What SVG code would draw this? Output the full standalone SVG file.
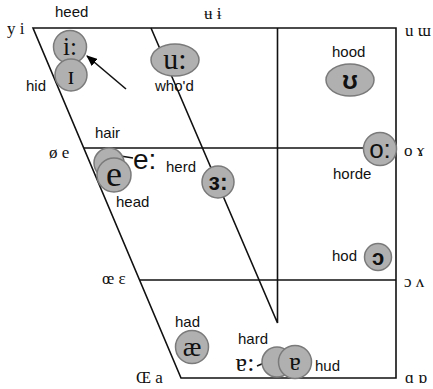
<svg xmlns="http://www.w3.org/2000/svg" width="433" height="389" viewBox="0 0 433 389">
<defs>
<marker id="ah" markerWidth="11" markerHeight="9" refX="10" refY="4.5" orient="auto" markerUnits="userSpaceOnUse">
<path d="M0,0 L11,4.5 L0,9 Z" fill="#000"/>
</marker>
<style>
.ln{stroke:#111;stroke-width:1.6;fill:none}
.c{fill:#b0b0b0;stroke:#7a7a7a;stroke-width:1.5}
.lab{font-family:"Liberation Sans","DejaVu Sans",sans-serif;font-size:15px;fill:#111}
.cor{font-family:"Liberation Serif","DejaVu Serif",serif;font-size:17px;fill:#111}
.ser{font-family:"Liberation Serif","DejaVu Serif",serif;fill:#111;text-anchor:middle}
.san{font-family:"Liberation Sans","DejaVu Sans",sans-serif;fill:#111;text-anchor:middle}
.arr{stroke:#111;stroke-width:1.6;fill:none;marker-end:url(#ah)}
</style>
</defs>
<rect width="433" height="389" fill="#fff"/>
<g id="connectors">
<path class="ln" d="M33,28 L396,28 L396,378 L181,378 Z"/>
<line class="ln" x1="84" y1="148" x2="396" y2="148"/>
<line class="ln" x1="139" y1="280" x2="396" y2="280"/>
<polyline class="ln" points="151,28 277.5,323 277.5,28"/>
<line class="arr" x1="126" y1="89" x2="87" y2="56"/>
<line class="arr" x1="133" y1="158" x2="108" y2="154"/>
<line class="arr" x1="257" y1="366" x2="276" y2="358"/>
</g>
<g id="corners">
<text class="cor" x="7" y="34">y i</text>
<text class="cor" x="204" y="19">ʉ ɨ</text>
<text class="cor" x="405" y="36">u ɯ</text>
<text class="cor" x="49" y="158">ø e</text>
<text class="cor" x="404" y="156">o ɤ</text>
<text class="cor" x="102" y="284">œ ɛ</text>
<text class="cor" x="404" y="287">ɔ ʌ</text>
<text class="cor" x="136" y="383">Œ a</text>
<text class="cor" x="405" y="383">ɑ ɒ</text>
</g>
<g id="node-i-long">
<circle class="c" cx="70" cy="47" r="16.5"/>
<text class="ser" x="70" y="55" font-size="25">i:</text>
<text class="lab" x="55" y="17">heed</text>
</g>
<g id="node-i-short">
<circle class="c" cx="71" cy="75" r="16"/>
<text class="ser" x="71" y="84" font-size="25">ɪ</text>
<text class="lab" x="26" y="91">hid</text>
</g>
<g id="node-u-long">
<ellipse class="c" cx="175" cy="60" rx="24" ry="16"/>
<text class="ser" x="175" y="69" font-size="30">u:</text>
<text class="lab" x="155" y="91">who'd</text>
</g>
<g id="node-u-short">
<ellipse class="c" cx="350" cy="80" rx="24" ry="16"/>
<text class="san" x="350" y="89" font-size="25" font-weight="bold">ʊ</text>
<text class="lab" x="332" y="57">hood</text>
</g>
<g id="node-e-long">
<circle class="c" cx="109" cy="163" r="15"/>
<text class="lab" x="133" y="169" style="font-size:28px">e:</text>
<text class="lab" x="95" y="138">hair</text>
</g>
<g id="node-e">
<circle class="c" cx="114" cy="175" r="17"/>
<text class="ser" x="114" y="186" font-size="36">e</text>
<text class="lab" x="116" y="207">head</text>
</g>
<g id="node-er">
<circle class="c" cx="218" cy="182" r="16"/>
<text class="san" x="218" y="190" font-size="23" font-weight="bold">ɜ:</text>
<text class="lab" x="166" y="172">herd</text>
</g>
<g id="node-o-long">
<circle class="c" cx="380" cy="149" r="16.5"/>
<text class="san" x="380" y="158" font-size="26">o:</text>
<text class="lab" x="333" y="179">horde</text>
</g>
<g id="node-o">
<circle class="c" cx="378" cy="257" r="13.5"/>
<text class="san" x="378" y="265" font-size="22" font-weight="bold">ɔ</text>
<text class="lab" x="332" y="261">hod</text>
</g>
<g id="node-ae">
<circle class="c" cx="192" cy="347" r="16.5"/>
<text class="ser" x="192" y="356" font-size="28">æ</text>
<text class="lab" x="175" y="327">had</text>
</g>
<g id="node-a-long">
<circle class="c" cx="277" cy="362" r="15"/>
<text class="ser" x="245" y="371" font-size="26">ɐ:</text>
<text class="lab" x="238" y="344">hard</text>
</g>
<g id="node-a">
<circle class="c" cx="295" cy="362" r="16.5"/>
<text class="ser" x="295" y="370" font-size="26">ɐ</text>
<text class="lab" x="315" y="371">hud</text>
</g>
</svg>
